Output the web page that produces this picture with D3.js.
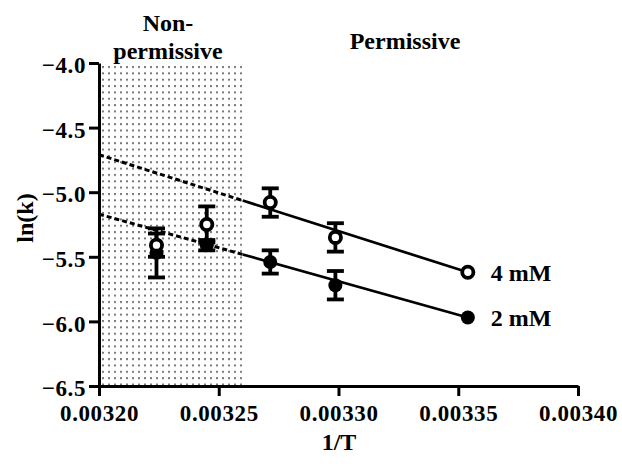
<!DOCTYPE html>
<html>
<head>
<meta charset="utf-8">
<script src="https://cdn.jsdelivr.net/npm/d3@7"></script>
<style>
  body { margin: 0; background: #fff; }
  svg text { font-family: "Liberation Serif", "Times New Roman", serif !important; font-weight: bold; fill: #000; }
</style>
</head>
<body>
<div id="chart"></div>
<script>
// values
var invT = [0.003224, 0.003245, 0.0032715, 0.0032987, 0.003354];
var mean4 = [-5.41, -5.25, -5.08, -5.35, -5.62];
var err4 = [0.09, 0.14, 0.11, 0.11, 0];
var mean2 = [-5.47, -5.41, -5.54, -5.72, -5.97];
var err2 = [0.19, 0.04, 0.09, 0.11, 0];
// fitted lines, start and end
var fitX = [0.00320, 0.003354];
var fit4 = [-4.71, -5.62];
var fit2 = [-5.17, -5.97];
var shadeX = [0.00320, 0.00326];
var xTicks = [0.00320, 0.00325, 0.00330, 0.00335, 0.00340];
var yTicks = [-4.0, -4.5, -5.0, -5.5, -6.0, -6.5];

var svgWidth = 622;
var svgHeight = 466;
var fontFam = "'Liberation Serif', 'Times New Roman', serif";

var svg = d3.select("#chart")
    .append("svg")
    .attr("width", svgWidth)
    .attr("height", svgHeight);

var x = d3.scaleLinear().domain([0.00320, 0.00340]).range([99, 578]);
var y = d3.scaleLinear().domain([-6.5, -4.0]).range([386, 63]);

// dotted background for the non-permissive zone
var defs = svg.append("defs");
var pat = defs.append("pattern")
    .attr("id", "dots")
    .attr("patternUnits", "userSpaceOnUse")
    .attr("x", 102).attr("y", 66)
    .attr("width", 6).attr("height", 6.35);
pat.append("rect")
    .attr("width", 2).attr("height", 2)
    .attr("fill", "#7a7a7a");

svg.append("rect")
    .attr("x", x(shadeX[0]))
    .attr("y", y(-4.0))
    .attr("width", x(shadeX[1]) - x(shadeX[0]))
    .attr("height", y(-6.5) - y(-4.0))
    .attr("fill", "url(#dots)");

// fit lines: dashed inside shaded zone, solid after
function drawFit(vals) {
    var f = d3.scaleLinear().domain(fitX).range(vals);
    svg.append("line")
        .attr("x1", x(fitX[0])).attr("y1", y(f(fitX[0])))
        .attr("x2", x(shadeX[1])).attr("y2", y(f(shadeX[1])))
        .attr("stroke", "#000")
        .attr("stroke-width", 3)
        .attr("stroke-dasharray", "5,3");
    svg.append("line")
        .attr("x1", x(shadeX[1])).attr("y1", y(f(shadeX[1])))
        .attr("x2", x(fitX[1])).attr("y2", y(f(fitX[1])))
        .attr("stroke", "#000")
        .attr("stroke-width", 2.7);
}
drawFit(fit4);
drawFit(fit2);

// error bars
function drawErr(means, errs) {
    var g = svg.append("g").attr("stroke", "#000").attr("stroke-width", 3.8);
    invT.forEach(function(t, i) {
        if (!errs[i]) return;
        var cx = x(t);
        var top = y(means[i] + errs[i]);
        var bot = y(means[i] - errs[i]);
        g.append("line").attr("x1", cx).attr("x2", cx).attr("y1", top).attr("y2", bot);
        g.append("line").attr("x1", cx - 8.5).attr("x2", cx + 8.5).attr("y1", top).attr("y2", top);
        g.append("line").attr("x1", cx - 8.5).attr("x2", cx + 8.5).attr("y1", bot).attr("y2", bot);
    });
}
drawErr(mean2, err2);
drawErr(mean4, err4);

// markers
svg.append("g").selectAll("circle")
    .data(invT)
    .enter()
    .append("circle")
    .attr("cx", function(d) { return x(d); })
    .attr("cy", function(d, i) { return y(mean2[i]); })
    .attr("r", 7)
    .attr("fill", "#000");

svg.append("g").selectAll("circle")
    .data(invT)
    .enter()
    .append("circle")
    .attr("cx", function(d) { return x(d); })
    .attr("cy", function(d, i) { return y(mean4[i]); })
    .attr("r", 5.6)
    .attr("fill", "#fff")
    .attr("stroke", "#000")
    .attr("stroke-width", 3.8);

// axes
var xAxis = svg.append("g")
    .attr("transform", "translate(0," + y(-6.5) + ")")
    .call(d3.axisBottom(x).tickValues(xTicks).tickFormat(d3.format(".5f")).tickSize(10).tickSizeOuter(0));
xAxis.attr("font-family", fontFam).attr("font-size", 23);
xAxis.selectAll("text")
    .attr("y", 35).attr("dy", 0)
    .style("font-family", fontFam)
    .style("font-size", "23px")
    .style("letter-spacing", "0.6px");

var yAxis = svg.append("g")
    .attr("transform", "translate(" + x(0.00320) + ",0)")
    .call(d3.axisLeft(y).tickValues(yTicks).tickFormat(d3.format(".1f")).tickSize(10).tickSizeOuter(0).tickPadding(3));
yAxis.attr("font-family", fontFam).attr("font-size", 23);
yAxis.selectAll("text")
    .attr("dy", "0.42em")
    .style("font-family", fontFam)
    .style("font-size", "23px")
    .style("letter-spacing", "0.6px");

svg.selectAll(".domain, .tick line")
    .attr("stroke", "#000")
    .attr("stroke-width", 3);

// labels
svg.append("text")
    .attr("x", 339).attr("y", 450)
    .attr("text-anchor", "middle")
    .style("font-size", "24px")
    .text("1/T");

svg.append("text")
    .attr("transform", "translate(33,218) rotate(-90)")
    .attr("text-anchor", "middle")
    .style("font-size", "24px")
    .text("ln(k)");

svg.append("text")
    .attr("x", 168).attr("y", 31)
    .attr("text-anchor", "middle")
    .style("font-size", "24px")
    .text("Non-");
svg.append("text")
    .attr("x", 168).attr("y", 59)
    .attr("text-anchor", "middle")
    .style("font-size", "24px")
    .text("permissive");

svg.append("text")
    .attr("x", 405).attr("y", 49)
    .attr("text-anchor", "middle")
    .style("font-size", "24px")
    .text("Permissive");

// series labels at the end points
var series = ["4 mM", "2 mM"];
var lastVals = [mean4[4], mean2[4]];
svg.append("g").selectAll("text")
    .data(series)
    .enter()
    .append("text")
    .attr("x", x(invT[4]) + 23)
    .attr("y", function(d, i) { return y(lastVals[i]); })
    .attr("dy", "0.36em")
    .style("font-size", "24px")
    .text(function(d) { return d; });
</script>
</body>
</html>
